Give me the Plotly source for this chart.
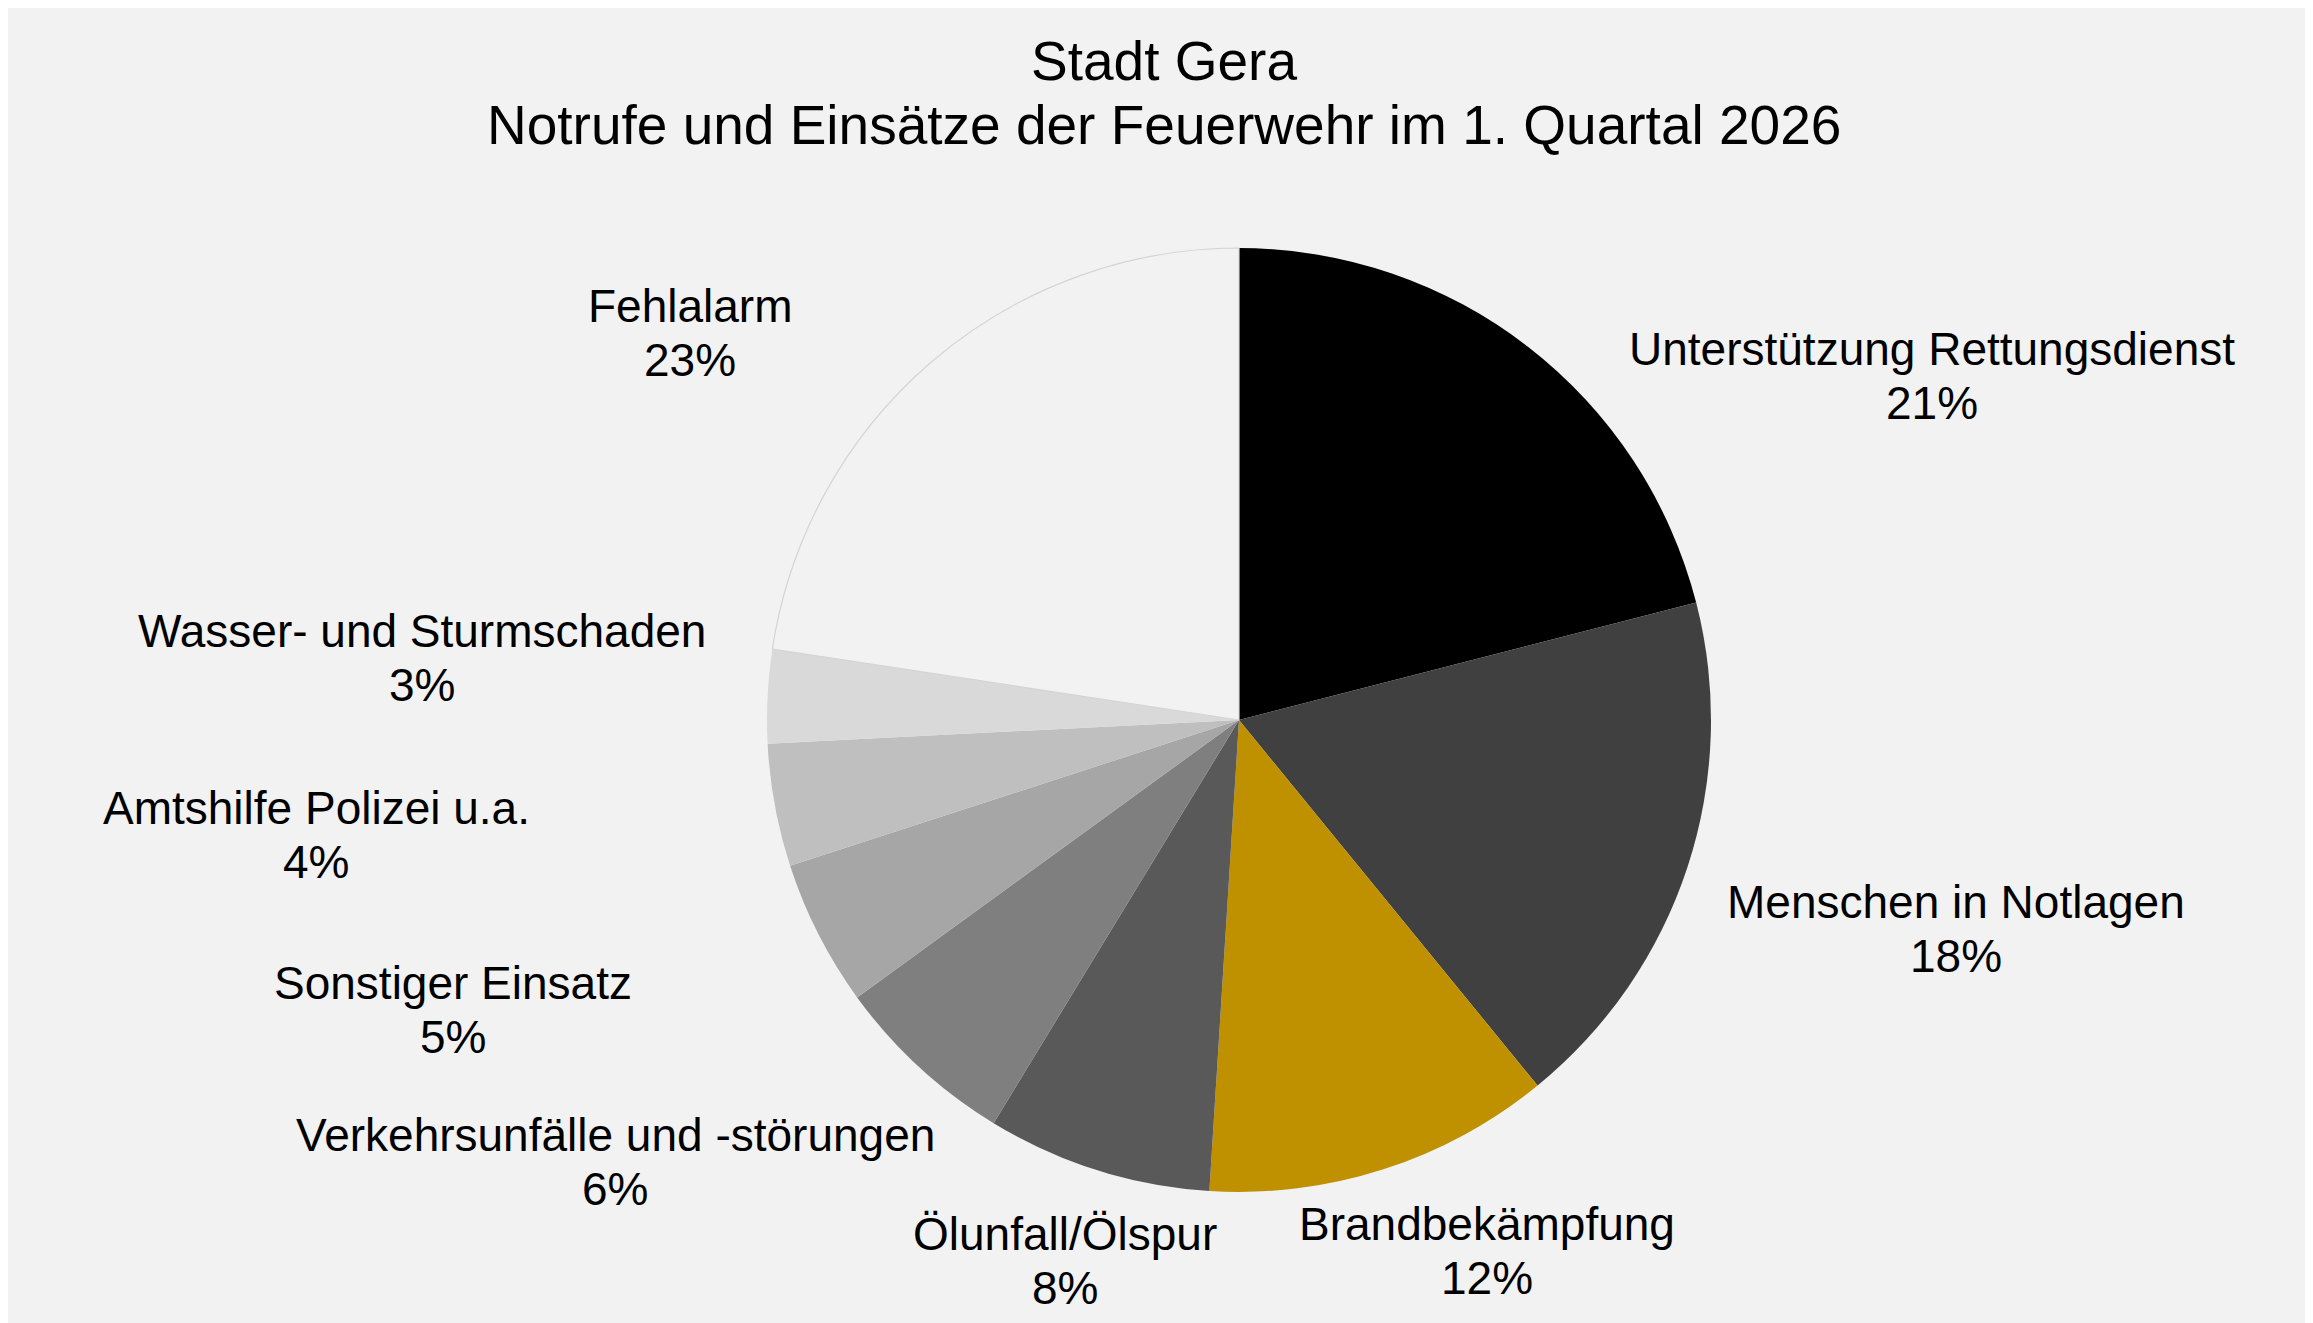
"""Kreisdiagramm: Notrufe und Einsätze der Feuerwehr Gera, 1. Quartal 2026."""

import plotly.graph_objects as go

# Daten (Anteile in %)
kategorien = [
    "Unterstützung Rettungsdienst",
    "Menschen in Notlagen",
    "Brandbekämpfung",
    "Ölunfall/Ölspur",
    "Verkehrsunfälle und -störungen",
    "Sonstiger Einsatz",
    "Amtshilfe Polizei u.a.",
    "Wasser- und Sturmschaden",
    "Fehlalarm",
]
anteile = [21.0, 18.1, 11.9, 7.7, 6.3, 5.0, 4.2, 3.2, 22.6]

titel_zeilen = ["Stadt Gera", "Notrufe und Einsätze der Feuerwehr im 1. Quartal 2026"]

# Stil
farben = [
    "#000000", "#404040", "#BF9000", "#595959", "#7F7F7F",
    "#A6A6A6", "#BFBFBF", "#D9D9D9", "#F2F2F2",
]
rand_farben = ["rgba(0,0,0,0)"] * 8 + ["#D4D4D4"]
rand_breiten = [0] * 8 + [1.2]

W, H = 2313, 1323
OFF = 8  # Seitenrand des Browsers

# Lage der Beschriftungen (Mitte des Textblocks, Pixel auf der Seite)
label_pos = [
    (1932, 376), (1956, 929), (1487, 1251), (1065, 1261), (615, 1162),
    (453, 1010), (316, 835), (422, 658), (690, 333),
]
zeilen_abstand = 54
titel_y = [61, 125]

# Kreis: Mittelpunkt und Radius in Pixeln (Seite)
cx, cy, r = 1239, 720, 472

FONT = "Liberation Sans, Arial, sans-serif"


def px_x(x):
    return (x - OFF) / W


def px_y(y):
    return 1 - (y - OFF) / H


def text(t, x, y, size):
    fig.add_annotation(
        text=t,
        x=px_x(x),
        y=px_y(y),
        xref="paper",
        yref="paper",
        xanchor="center",
        yanchor="middle",
        showarrow=False,
        font=dict(family=FONT, size=size, color="#000000"),
    )


fig = go.Figure()

fig.add_trace(go.Pie(
    labels=kategorien,
    values=anteile,
    sort=False,
    direction="clockwise",
    rotation=0,
    marker=dict(colors=farben, line=dict(color=rand_farben, width=rand_breiten)),
    textinfo="none",
    hoverinfo="label+percent",
    showlegend=False,
    domain=dict(
        x=[px_x(cx - r), px_x(cx + r)],
        y=[px_y(cy + r), px_y(cy - r)],
    ),
))

summe = sum(anteile)
for name, wert, (px, py) in zip(kategorien, anteile, label_pos):
    prozent = int(wert / summe * 100 + 0.5)
    text(name, px, py - zeilen_abstand / 2, 46)
    text(f"{prozent}%", px, py + zeilen_abstand / 2, 46)

for zeile, ty in zip(titel_zeilen, titel_y):
    text(zeile, 1164, ty, 55)

fig.update_layout(
    paper_bgcolor="#F2F2F2",
    plot_bgcolor="#F2F2F2",
    margin=dict(l=0, r=0, t=0, b=0),
    width=W,
    height=H,
)

fig.write_html("out.html")
